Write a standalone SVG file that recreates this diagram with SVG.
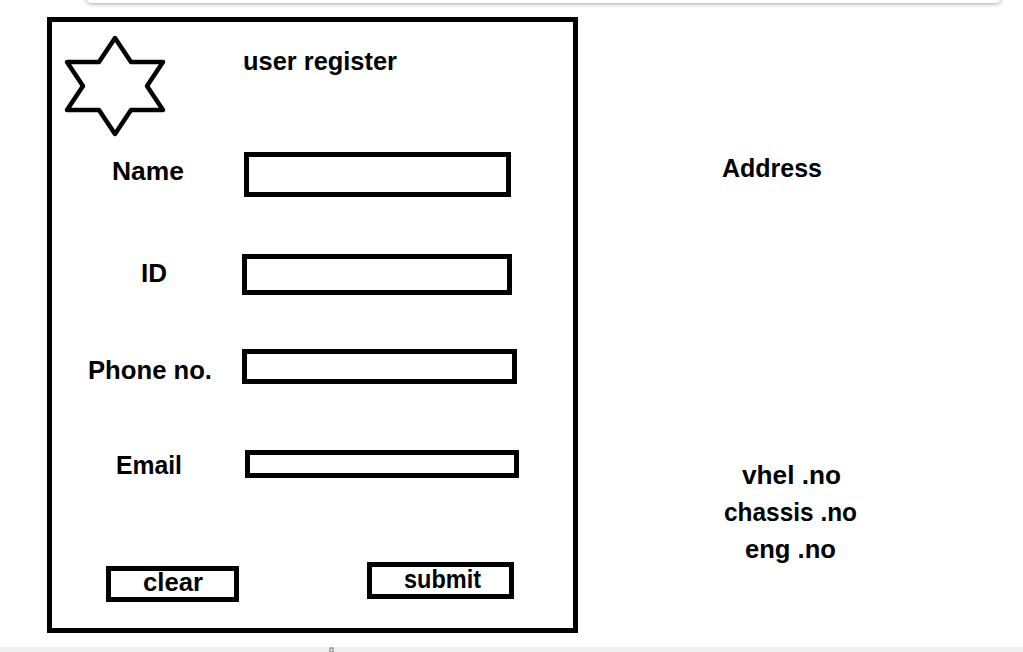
<svg xmlns="http://www.w3.org/2000/svg" width="1023" height="652" viewBox="0 0 1023 652">
<style>
.box{fill:#fff;stroke:#000;stroke-width:5}
.t{font-family:"Liberation Sans",Arial,sans-serif;font-weight:bold;font-size:25px;fill:#000}
</style>
<defs>
<filter id="sh" x="-5%" y="-100%" width="110%" height="300%">
<feGaussianBlur in="SourceAlpha" stdDeviation="2"/>
<feOffset dy="1"/>
<feComponentTransfer><feFuncA type="linear" slope="0.35"/></feComponentTransfer>
<feMerge><feMergeNode/><feMergeNode in="SourceGraphic"/></feMerge>
</filter>
</defs>
<rect width="1023" height="652" fill="#fff"/>
<g id="topbar"><rect x="86" y="-12" width="915" height="15" rx="6" fill="#fff" filter="url(#sh)"/></g>
<g id="bottombar"><rect x="0" y="647" width="1023" height="5" fill="#f0f0f0"/><rect x="330" y="648" width="3" height="4" fill="none" stroke="#555" stroke-width="0.8"/></g>
<g id="frame"><rect class="box" x="49.5" y="19.5" width="526" height="611"/></g>
<g id="star"><polygon points="115,38 131,62 163,62 147,86 163,110 131,110 115,134 99,110 67,110 83,86 67,62 99,62" fill="#fff" stroke="#000" stroke-width="4.5" stroke-linejoin="round"/></g>
<g id="title"><text class="t" x="243" y="70" textLength="154" lengthAdjust="spacingAndGlyphs">user register</text></g>
<g id="name"><text class="t" x="112" y="180" textLength="72" lengthAdjust="spacingAndGlyphs">Name</text><rect class="box" x="246.5" y="154.5" width="262" height="40"/></g>
<g id="id"><text class="t" x="141" y="282" textLength="26" lengthAdjust="spacingAndGlyphs">ID</text><rect class="box" x="244.5" y="256.5" width="265" height="36"/></g>
<g id="phone"><text class="t" x="88" y="379" textLength="124" lengthAdjust="spacingAndGlyphs">Phone no.</text><rect class="box" x="244.5" y="351.5" width="270" height="30"/></g>
<g id="email"><text class="t" x="116" y="474" textLength="66" lengthAdjust="spacingAndGlyphs">Email</text><rect class="box" x="247.5" y="452.5" width="269" height="23"/></g>
<g id="clear"><rect class="box" x="108.5" y="568.5" width="128" height="31"/><text class="t" x="143" y="591" textLength="60" lengthAdjust="spacingAndGlyphs">clear</text></g>
<g id="submit"><rect class="box" x="369.5" y="564.5" width="142" height="32"/><text class="t" x="404" y="588" textLength="77" lengthAdjust="spacingAndGlyphs">submit</text></g>
<g id="address"><text class="t" x="722" y="177" textLength="100" lengthAdjust="spacingAndGlyphs">Address</text></g>
<g id="vehicle"><text class="t" x="742" y="484" textLength="99" lengthAdjust="spacingAndGlyphs">vhel .no</text><text class="t" x="724" y="521" textLength="133" lengthAdjust="spacingAndGlyphs">chassis .no</text><text class="t" x="745" y="558" textLength="91" lengthAdjust="spacingAndGlyphs">eng .no</text></g>
<g id="connectors"></g>
</svg>
